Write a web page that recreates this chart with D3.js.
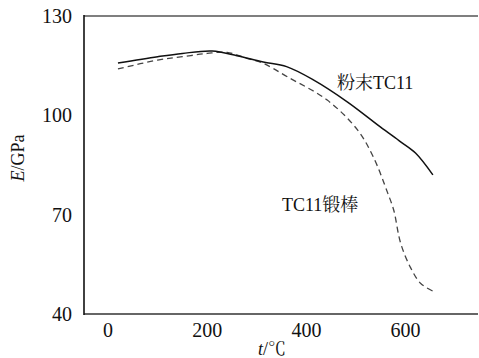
<!DOCTYPE html>
<html><head><meta charset="utf-8">
<script src="https://cdn.jsdelivr.net/npm/d3@7"></script>
<style>body{margin:0;background:#fff}svg{display:block}</style>
</head><body>
<svg id="c" width="479" height="358"></svg>
<script>
const xTicks = [0, 200, 400, 600];
const yTicks = [40, 70, 100, 130];
const powderT = [20, 100, 150, 210, 260, 313, 360, 414, 483, 549, 590, 620, 655];
const powderE = [115.8, 117.7, 118.7, 119.4, 118, 116.1, 114.7, 110.7, 104, 96.5, 92, 88.6, 82];
const barT = [20, 100, 150, 200, 240, 280, 313, 362, 442, 503, 535, 564, 576, 590, 610, 630, 655];
const barE = [114, 116.7, 117.7, 118.7, 119, 117.2, 115.7, 111.6, 104.6, 95.6, 87.4, 76.5, 71.4, 61.4, 54, 49.3, 46.9];
const labels = {powder: "粉末TC11", bar: "TC11锻棒"};

const FONT = "'Liberation Serif', 'Times New Roman', 'Noto Serif CJK SC', serif";
const svg = d3.select("#c");
const x = d3.scaleLinear().domain([-48.5, 746]).range([84, 478]);
const y = d3.scaleLinear().domain([40, 130]).range([314, 16]);

// frame
svg.append("line").attr("x1", 84).attr("x2", 478).attr("y1", y(130)).attr("y2", y(130)).attr("stroke", "#555").attr("stroke-width", 1.5);
svg.append("line").attr("x1", 84).attr("x2", 478).attr("y1", y(40)).attr("y2", y(40)).attr("stroke", "#333").attr("stroke-width", 1.5);
svg.append("line").attr("x1", 84).attr("x2", 84).attr("y1", y(130) - 1).attr("y2", y(40) + 1).attr("stroke", "#111").attr("stroke-width", 1.6);

// tick labels
svg.selectAll(".yl").data(yTicks).enter().append("text").style("font-family", FONT)
  .attr("x", 72).attr("y", d => y(d) + 7).attr("text-anchor", "end")
  .attr("font-size", 20).attr("fill", "#111").text(d => d);
svg.selectAll(".xl").data(xTicks).enter().append("text").style("font-family", FONT)
  .attr("x", d => x(d)).attr("y", 337).attr("text-anchor", "middle")
  .attr("font-size", 20).attr("fill", "#111").text(d => d);

// axis titles
const xt = svg.append("text").style("font-family", FONT).attr("x", 272).attr("y", 355).attr("text-anchor", "middle")
  .attr("font-size", 18).attr("fill", "#111");
xt.append("tspan").attr("font-style", "italic").text("t");
xt.append("tspan").text("/℃");
const yt = svg.append("text").style("font-family", FONT).attr("transform", "translate(24,158) rotate(-90)").attr("text-anchor", "middle")
  .attr("font-size", 18).attr("fill", "#111");
yt.append("tspan").attr("font-style", "italic").text("E");
yt.append("tspan").text("/GPa");

// curves
const line = d3.line().x(d => x(d[0])).y(d => y(d[1])).curve(d3.curveCatmullRom.alpha(0.5));
svg.append("path").datum(barT.map((t, i) => [t, barE[i]])).attr("d", line)
  .attr("fill", "none").attr("stroke", "#444").attr("stroke-width", 1.3).attr("stroke-dasharray", "6,4");
svg.append("path").datum(powderT.map((t, i) => [t, powderE[i]])).attr("d", line)
  .attr("fill", "none").attr("stroke", "#111").attr("stroke-width", 1.5);

svg.append("text").style("font-family", FONT).attr("x", 337).attr("y", 89).attr("font-size", 18).attr("fill", "#111").text(labels.powder);
svg.append("text").style("font-family", FONT).attr("x", 282).attr("y", 211).attr("font-size", 18).attr("fill", "#111").text(labels.bar);
</script>
</body></html>
